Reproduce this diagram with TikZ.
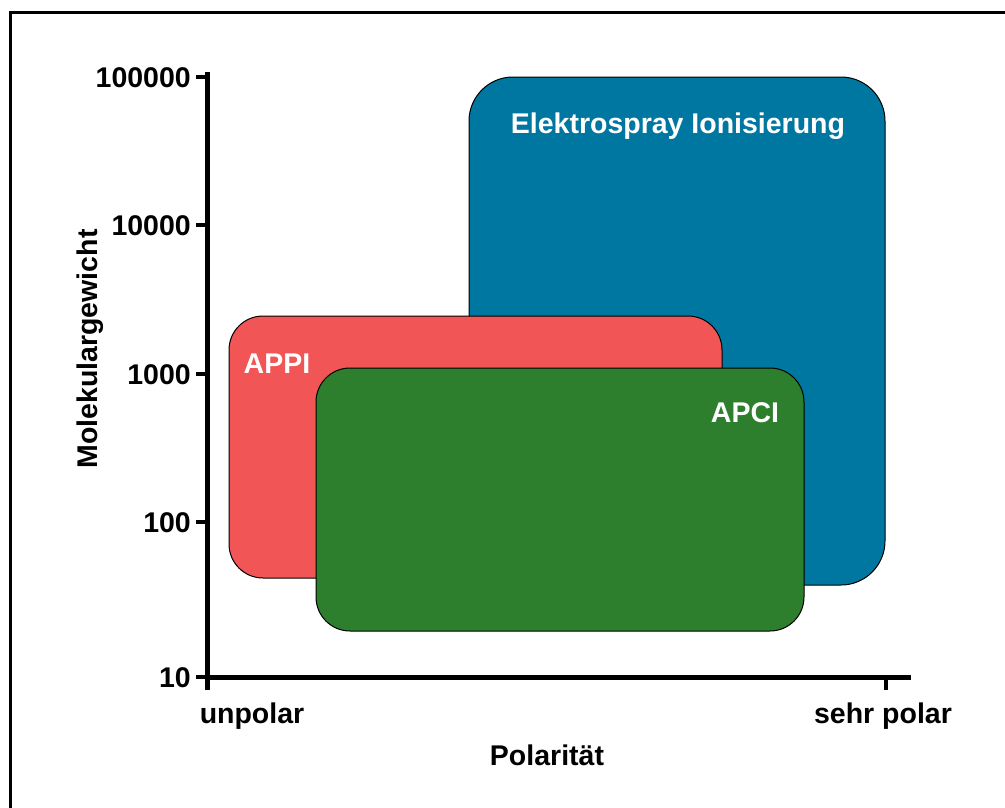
\documentclass[tikz,border=0pt]{standalone}
\usepackage{fontspec}
\setmainfont{Liberation Sans}
\definecolor{esiblue}{HTML}{0077A0}
\definecolor{appired}{HTML}{F25555}
\definecolor{apcigreen}{HTML}{2D7F2D}
\begin{document}
\begin{tikzpicture}[x=1pt,y=-1pt,
  lbl/.style={inner sep=0pt,font=\fontsize{28.5}{34}\selectfont\bfseries},
  wlbl/.style={lbl,text=white},
  region/.style={draw=black,line width=1pt,rounded corners=#1},
  axis/.style={line width=5pt},
  tick/.style={line width=4pt}]
\useasboundingbox (0,0) rectangle (1005,807);
% frame
\draw[line width=3pt] (10,812) -- (10,12) -- (1010,12);
% regions
\draw[region=44pt,fill=esiblue] (469,77) rectangle (885,585);
\draw[region=34pt,fill=appired] (229,316) rectangle (722,578);
\draw[region=34pt,fill=apcigreen] (316,368) rectangle (804,631);
\node[wlbl,anchor=base] (esi) at (678,133) {Elektrospray Ionisierung};
\node[wlbl,anchor=base] (appi) at (277,373) {APPI};
\node[wlbl,anchor=base] (apci) at (745,422) {APCI};
% axes
\coordinate (ytop) at (207,72);
\coordinate (ybot) at (207,690);
\coordinate (xl) at (207,677);
\coordinate (xr) at (911,677);
\draw[axis] (ytop) -- (ybot);
\draw[axis] (xl) -- (xr);
\draw[tick] (886,677) -- (886,690);
\foreach \y/\t in {77/100000,225/10000,373.5/1000,522/100,677/10}{
  \draw[tick] (196,\y) -- (207,\y);
  \node[lbl,anchor=base east] at (191,\y+10.5) {\t};
}
\node[lbl,anchor=base] (unp) at (252,723) {unpolar};
\node[lbl,anchor=base] (sp) at (883,723) {sehr polar};
\node[lbl,anchor=base] (xlab) at (547,765) {Polarität};
\node[lbl,anchor=base,rotate=90] (ylab) at (97,349) {Molekulargewicht};
\end{tikzpicture}
\end{document}
